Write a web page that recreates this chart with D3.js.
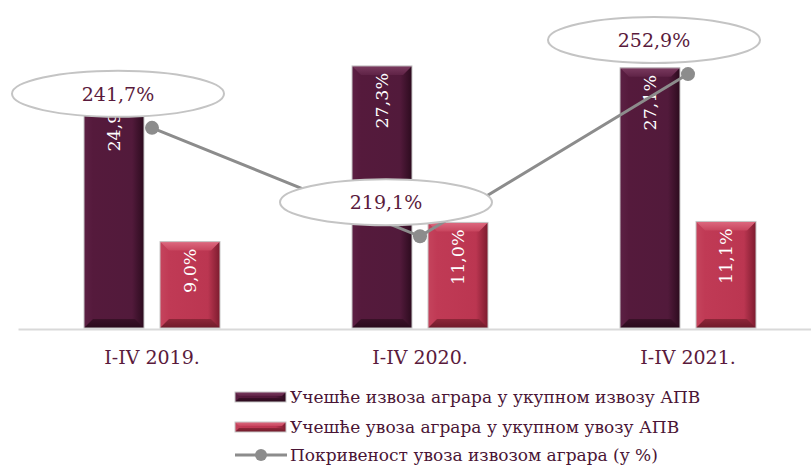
<!DOCTYPE html>
<html>
<head>
<meta charset="utf-8">
<script src="https://cdn.jsdelivr.net/npm/d3@7/dist/d3.min.js"></script>
<style>
  html, body { margin: 0; padding: 0; background: #fff; }
  svg { display: block; }
  text { font-family: "DejaVu Serif", serif; }
</style>
</head>
<body>
<svg id="chart" width="811" height="466"></svg>
<script>
const categories = ["I-IV 2019.", "I-IV 2020.", "I-IV 2021."];
const exportShare = [24.9, 27.3, 27.1];
const importShare = [9.0, 11.0, 11.1];
const coverage = [241.7, 219.1, 252.9];
const seriesNames = [
  "Учешће извоза аграра у укупном извозу АПВ",
  "Учешће увоза аграра у укупном увозу АПВ",
  "Покривеност увоза извозом аграра (у %)"
];
const seriesKeys = ["exp", "imp"];

(function () {
const plotTop = 40, base = 328;
const svg = d3.select("#chart");
const defs = svg.append("defs");

const loc = d3.formatLocale({decimal: ",", thousands: ".", grouping: [3], currency: ["", ""]});
const fmt = v => loc.format(".1f")(v) + "%";

const x = d3.scaleBand().domain(categories).range([18, 822]).paddingInner(0).paddingOuter(0);
const xi = d3.scaleBand().domain(seriesKeys).range([0, 136]).paddingInner(16 / 76).paddingOuter(0);
const y = d3.scaleLinear().domain([0, 30]).range([base, plotTop]);
const y2 = d3.scaleLinear().domain([200, 260]).range([base, plotTop]);

const palettes = {
  exp: {body: ["#5c2044", "#551a3c", "#521a3b", "#2c0b1e"], topc: ["#7a3a5f", "#5f2346"], bot: ["#3a1128", "#2a0a1c"]},
  imp: {body: ["#c5445d", "#c03a55", "#bb3651", "#7c1b2e"], topc: ["#dd6a80", "#c8455e"], bot: ["#8e2739", "#6f1a2a"]}
};

Object.entries(palettes).forEach(([k, p]) => {
  const g = defs.append("linearGradient").attr("id", "body-" + k).attr("x1", 0).attr("x2", 1).attr("y1", 0).attr("y2", 0);
  g.append("stop").attr("offset", "0%").attr("stop-color", p.body[0]);
  g.append("stop").attr("offset", "15%").attr("stop-color", p.body[1]);
  g.append("stop").attr("offset", "80%").attr("stop-color", p.body[2]);
  g.append("stop").attr("offset", "100%").attr("stop-color", p.body[3]);
  const t = defs.append("linearGradient").attr("id", "top-" + k).attr("x1", 0).attr("x2", 0).attr("y1", 0).attr("y2", 1);
  t.append("stop").attr("offset", "0%").attr("stop-color", p.topc[0]);
  t.append("stop").attr("offset", "100%").attr("stop-color", p.topc[1]);
  const b = defs.append("linearGradient").attr("id", "bot-" + k).attr("x1", 0).attr("x2", 0).attr("y1", 0).attr("y2", 1);
  b.append("stop").attr("offset", "0%").attr("stop-color", p.bot[0]);
  b.append("stop").attr("offset", "100%").attr("stop-color", p.bot[1]);
});

function bevelBar(g, k, bx, by, bw, bh, bev) {
  const b = Math.min(bev, bh / 2.5);
  g.append("rect").attr("x", bx).attr("y", by).attr("width", bw).attr("height", bh)
    .attr("fill", `url(#body-${k})`);
  g.append("polygon").attr("points", [[bx, by], [bx + bw, by], [bx + bw - b, by + b], [bx + b, by + b]].join(" "))
    .attr("fill", `url(#top-${k})`);
  g.append("polygon").attr("points", [[bx, by + bh], [bx + bw, by + bh], [bx + bw - b, by + bh - b], [bx + b, by + bh - b]].join(" "))
    .attr("fill", `url(#bot-${k})`);
  g.append("rect").attr("x", bx).attr("y", by).attr("width", bw).attr("height", bh)
    .attr("fill", "none").attr("stroke", "#c8c8c8").attr("stroke-width", 1);
}

// Axis
const axis = svg.append("g").attr("transform", `translate(0,${base + 1})`)
  .call(d3.axisBottom(x).tickSize(0).tickPadding(22));
axis.select(".domain").attr("stroke", "#d9d9d9").attr("stroke-width", 2);
axis.selectAll(".tick text").attr("fill", "#5a1a3c").style("font-size", "19px")
  .style("font-family", "'DejaVu Serif', serif");

// Bars
const rows = categories.map((c, i) => ({c, exp: exportShare[i], imp: importShare[i]}));
const gBars = svg.append("g");
rows.forEach(r => {
  seriesKeys.forEach(k => {
    const bx = x(r.c) + x.bandwidth() / 2 - 68 + xi(k);
    const by = y(r[k]);
    bevelBar(gBars, k, bx, by, xi.bandwidth(), base - by, 9);
  });
});

// Bar labels
rows.forEach(r => {
  seriesKeys.forEach(k => {
    const cx = x(r.c) + x.bandwidth() / 2 - 68 + xi(k) + xi.bandwidth() / 2;
    const ty = y(r[k]) + 7;
    gBars.append("text")
      .attr("transform", `translate(${cx},${ty}) rotate(-90)`)
      .attr("text-anchor", "end").attr("dominant-baseline", "central")
      .attr("fill", "#ffffff").style("font-size", "17.5px")
      .text(fmt(r[k]));
  });
});

// Line
const pts = categories.map((c, i) => [x(c) + x.bandwidth() / 2, y2(coverage[i]), coverage[i]]);
svg.append("path").datum(pts)
  .attr("d", d3.line().x(d => d[0]).y(d => d[1]))
  .attr("fill", "none").attr("stroke", "#8c8c8c").attr("stroke-width", 3);
svg.selectAll("circle.pt").data(pts).join("circle").attr("class", "pt")
  .attr("cx", d => d[0]).attr("cy", d => d[1]).attr("r", 7).attr("fill", "#8c8c8c");

// Callout ellipses
const gLab = svg.append("g");
pts.forEach(d => {
  const cx = d[0] - 34, cy = d[1] - 34;
  gLab.append("ellipse").attr("cx", cx).attr("cy", cy).attr("rx", 106).attr("ry", 23)
    .attr("fill", "#fff").attr("stroke", "#c4c4c4").attr("stroke-width", 2);
  gLab.append("text").attr("x", cx).attr("y", cy).attr("text-anchor", "middle")
    .attr("dominant-baseline", "central").attr("fill", "#5a1a3c").style("font-size", "19px")
    .text(fmt(d[2]));
});

// Legend
const lg = svg.append("g");
const rowY = [397, 427, 455];
seriesKeys.forEach((k, i) => {
  bevelBar(lg, k, 235, rowY[i] - 5, 51, 10, 4);
});
lg.append("line").attr("x1", 235).attr("x2", 287).attr("y1", rowY[2]).attr("y2", rowY[2])
  .attr("stroke", "#8c8c8c").attr("stroke-width", 3);
lg.append("circle").attr("cx", 261).attr("cy", rowY[2]).attr("r", 6).attr("fill", "#8c8c8c");
seriesNames.forEach((n, i) => {
  lg.append("text").attr("x", 290).attr("y", rowY[i]).attr("dominant-baseline", "central")
    .attr("fill", "#4a1535").style("font-size", "17px").text(n);
});
})();
</script>
</body>
</html>
